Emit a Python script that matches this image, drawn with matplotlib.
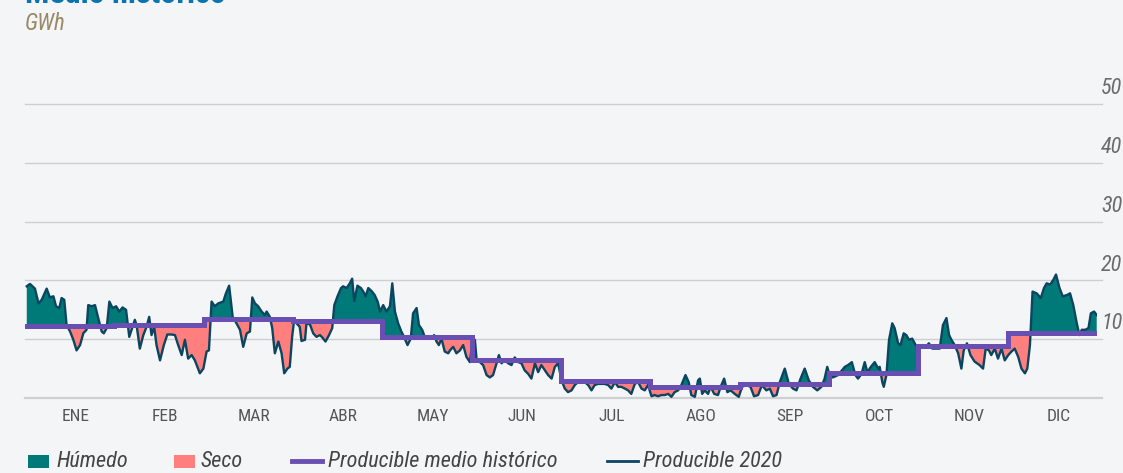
import numpy as np
import matplotlib
matplotlib.use("Agg")
import matplotlib.pyplot as plt
from matplotlib.patches import Rectangle
from matplotlib.lines import Line2D
import matplotlib.transforms as mtransforms

# Producible medio histórico (GWh), one value per month
months = ["ENE", "FEB", "MAR", "ABR", "MAY", "JUN", "JUL", "AGO", "SEP", "OCT", "NOV", "DIC"]
hist_month = [12.2, 12.5, 13.4, 13.1, 10.4, 6.5, 2.9, 1.8, 2.3, 4.3, 8.8, 11.1]

# Producible 2020 (GWh): day of year / value
days_2020 = [
    0.6, 1.7, 3.4, 4.6, 5.7, 7.4, 8.5, 9.7, 10.6, 11.7, 12.5, 13.4, 14.2, 15.4, 16.5, 17.6,
    18.8, 19.9, 21.0, 21.6, 22.8, 23.9, 25.0, 26.2, 26.9, 27.9, 28.8, 29.9, 31.1, 32.2, 33.3,
    34.5, 35.6, 36.7, 37.5, 38.1, 39.2, 40.4, 41.5, 42.4, 43.2, 44.1, 44.9, 46.1, 47.4, 48.6,
    50.1, 51.2, 52.3, 53.5, 54.6, 55.7, 56.9, 58.0, 59.7, 60.9, 62.0, 62.8, 63.7, 64.8, 66.0,
    67.7, 68.6, 69.7, 70.9,
    72.2, 73.4, 74.5, 75.7, 76.8, 77.6, 78.5, 79.6, 80.8, 81.9, 82.5, 83.6, 84.4, 85.3, 86.5,
    87.6, 88.5, 89.6, 90.4, 91.2, 91.9, 92.7, 93.8, 94.4, 95.6, 96.1, 97.3, 98.4, 99.5, 100.7,
    101.5, 102.6, 103.8, 104.9, 105.6, 106.7, 107.9, 108.6, 109.8, 110.9, 111.7, 112.4, 113.5,
    114.7, 115.5, 116.3, 117.2, 118.3, 119.4, 120.4, 121.2, 122.3, 123.4, 124.6, 125.4, 126.3,
    127.4, 128.5, 129.4, 130.6, 131.7, 132.5, 133.7, 134.5, 135.6, 136.7, 137.7, 138.8, 139.7,
    140.5, 141.3, 142.2, 143.3, 144.5,
    145.1, 146.2, 147.3, 148.5, 149.6, 150.7, 151.9, 152.8, 153.6, 154.2, 155.3, 156.4, 157.6,
    158.7, 159.8, 161.0, 161.8, 162.7, 163.8, 165.0, 166.1, 167.2, 168.4, 169.5, 170.6, 171.8,
    172.9, 174.1, 175.2, 176.3, 177.5, 178.6, 179.8, 180.9, 182.0, 183.2, 184.3, 185.4, 186.6,
    187.7, 188.8, 190.0, 191.1, 192.3, 193.4, 194.5, 195.7, 196.8, 197.9, 199.1, 200.2, 201.4,
    202.5, 203.6, 204.8, 205.9, 207.0, 208.2, 209.3, 210.5, 211.6, 212.7, 213.9, 215.0, 216.1,
    217.3,
    218.4, 219.6, 220.7, 221.8, 223.0, 224.1, 225.5, 226.6, 227.5, 228.7, 229.8, 230.4, 231.2,
    232.1, 233.2, 234.1, 235.3, 236.6, 237.5, 238.7, 239.8, 240.9, 242.3, 243.7, 244.8, 246.3,
    247.7, 248.9, 250.3, 251.6, 253.1, 254.3, 255.4, 256.6, 257.7, 259.4, 260.8, 262.2, 263.4,
    264.8, 266.2, 267.6, 269.0, 270.5, 271.9, 273.0, 273.9, 274.7, 275.8, 277.6, 279.9, 281.0,
    282.3, 283.5, 284.4, 285.6, 286.7, 287.6, 288.8, 290.1, 291.3,
    291.8, 292.7, 293.2, 294.1, 295.0, 296.1, 296.9, 298.1, 298.9, 300.0, 300.9, 301.8, 302.9,
    304.1, 305.2, 306.4, 307.5, 308.6, 309.8, 310.9, 312.3, 313.4, 314.6, 315.5, 316.3, 317.4,
    318.6, 319.7, 320.5, 321.6, 322.8, 324.2, 325.9, 327.1, 328.0, 329.1, 329.9, 331.1, 332.2,
    333.4, 334.5, 335.7, 336.8, 337.9, 339.1, 340.2, 341.4, 342.2, 343.1, 344.0, 345.4, 346.8,
    347.9, 348.8, 350.0, 351.1, 352.0, 353.2, 354.3, 355.7, 356.8, 357.9, 359.1, 360.0, 360.8,
    362.0, 363.1, 363.9, 365.0, 365.9,
]
prod_2020 = [
    19.0, 19.4, 18.6, 16.1, 16.7, 18.6, 17.1, 17.3, 15.6, 15.3, 17.0, 16.7, 12.4, 11.3, 9.9, 8.1,
    9.0, 11.0, 11.6, 15.8, 15.6, 15.8, 13.6, 11.3, 11.0, 11.9, 16.4, 15.3, 15.6, 14.7, 15.4,
    15.0, 10.4, 12.1, 13.3, 12.4, 8.4, 10.7, 12.1, 13.8, 10.7, 12.1, 9.0, 6.4, 9.0, 10.8,
    10.8, 10.7, 9.0, 7.3, 9.9, 6.7, 7.3, 6.4, 4.2, 5.0, 7.9, 8.1, 16.4, 15.6, 16.1,
    16.4, 17.8, 19.1, 13.8,
    12.7, 11.6, 8.7, 11.0, 11.3, 17.1, 16.1, 15.6, 14.7, 14.1, 14.7, 13.8, 11.9, 7.6, 9.6,
    7.6, 4.2, 5.0, 5.3, 10.4, 13.3, 12.7, 12.1, 9.7, 9.9, 12.7, 12.5, 11.0, 10.4, 10.7,
    10.3, 9.6, 10.7, 11.9, 15.8, 17.3, 18.7, 19.0, 18.7, 19.5, 20.3, 16.5, 19.1,
    18.7, 18.1, 17.3, 18.7, 18.2, 17.5, 16.4, 14.7, 15.8, 14.7, 15.6, 19.5, 14.7,
    12.7, 11.3, 10.4, 9.0, 10.1, 14.4, 15.3, 12.4, 11.6, 10.1, 10.4, 10.1, 10.7,
    9.6, 9.0, 10.1, 7.9, 7.6,
    8.1, 8.7, 7.6, 8.1, 9.0, 7.0, 6.1, 9.8, 9.9, 6.4, 6.1, 5.6, 3.9,
    3.5, 3.9, 5.9, 7.3, 5.9, 6.4, 5.9, 5.6, 6.9, 6.1, 5.9, 4.7, 4.1,
    3.3, 5.9, 4.4, 5.6, 4.7, 3.9, 3.3, 5.3, 5.9, 3.0, 1.6, 1.0, 1.3,
    2.2, 2.7, 3.0, 2.7, 2.2, 1.3, 2.2, 2.4, 2.4, 2.4, 2.2, 1.6, 2.7,
    1.9, 1.9, 1.6, 1.3, 0.7, 2.4, 2.7, 1.6, 1.3, 2.2, 0.3, 0.5, 0.3,
    0.5,
    0.5, 0.7, 0.2, 1.0, 1.3, 2.2, 3.9, 2.7, 0.5, 0.2, 3.0, 3.3, 0.7,
    1.3, 0.7, 1.9, 0.7, 0.5, 1.9, 3.3, 1.0, 1.3, 0.7, 0.2, 1.9, 2.2,
    1.9, 0.3, 0.5, 2.2, 1.3, 1.6, 0.3, 0.5, 2.7, 5.0, 2.4, 1.6, 1.3,
    3.3, 5.0, 3.0, 1.9, 1.3, 1.9, 3.3, 5.3, 3.9, 3.5, 3.9, 5.3, 5.6,
    6.1, 3.9, 3.3, 4.1, 6.1, 4.4, 5.3, 6.1, 5.0,
    5.3, 2.7, 1.9, 3.9, 9.9, 12.7, 11.9, 9.3, 9.0, 11.0, 10.7, 9.9, 10.1,
    9.0, 8.7, 9.0, 8.7, 9.3, 8.4, 8.4, 8.4, 12.4, 13.6, 10.7, 9.9, 9.0,
    7.6, 5.0, 8.1, 9.3, 7.3, 6.2, 5.6, 5.0, 8.4, 8.1, 7.3, 8.4, 6.7,
    8.4, 6.4, 7.3, 7.9, 8.4, 7.0, 5.0, 4.2, 5.0, 9.0, 18.1, 17.8, 17.0,
    18.7, 19.5, 19.3, 20.1, 21.0, 18.7, 17.3, 17.5, 17.8, 15.8, 12.7, 10.7, 11.6,
    11.6, 11.9, 14.4, 14.7, 14.1,
]
y_ticks = [10, 20, 30, 40, 50]
legend_labels = ["Húmedo", "Seco", "Producible medio histórico", "Producible 2020"]

BG = "#f4f5f7"
C_WET = "#007a78"
C_DRY = "#ff7f7f"
C_HIST = "#6a4fb2"
C_2020 = "#0b4560"
FONT = ["Roboto Condensed", "Liberation Sans Narrow", "Roboto", "DejaVu Sans"]

month_len = 366 / 12
days = np.array(days_2020)
prod = np.array(prod_2020)
hist = np.array(hist_month)


def hist_at(d):
    idx = np.clip((np.asarray(d) // month_len).astype(int), 0, 11)
    return hist[idx]


fig = plt.figure(figsize=(11.23, 4.73), dpi=100, facecolor=BG)
W, H = 1123, 473
x0, x1 = 25, 1097
ymin, ymax = -0.5, 52
px_per = 5.88
bot_px = 398 + (0 - ymin) * px_per
top_px = 398 - ymax * px_per
ax = fig.add_axes([x0 / W, (H - bot_px) / H, (x1 - x0) / W, (bot_px - top_px) / H])
ax.set_facecolor(BG)
ax.set_xlim(0, 366)
ax.set_ylim(ymin, ymax)
for s in ax.spines.values():
    s.set_visible(False)
ax.tick_params(left=False, right=False, bottom=False, labelleft=False)

# gridlines
for v in [0] + y_ticks:
    ax.axhline(v, xmin=0, xmax=1.005, color="#cfcfd2", lw=1.6 if v == 0 else 1.0,
               zorder=0, clip_on=False)
trans = mtransforms.blended_transform_factory(ax.transAxes, ax.transData)
for v in y_ticks:
    ax.text(1.0235, v + 0.8, str(v), transform=trans, ha="right", va="bottom",
            fontsize=16, style="italic", color="#6b6b6b", family=FONT)

# fill between 2020 and historic mean (fine grid only for shading)
xf = np.linspace(days[0], days[-1], 4000)
pf = np.interp(xf, days, prod)
hf = hist_at(xf)
ax.fill_between(xf, pf, hf, where=pf >= hf, interpolate=True, color=C_WET, lw=0, zorder=2)
ax.fill_between(xf, pf, hf, where=pf < hf, interpolate=True, color=C_DRY, lw=0, zorder=2)

# historic step line
edges = np.arange(13) * month_len
ax.plot(edges[:-1].tolist() + [days[-1]], hist.tolist() + [hist[-1]],
        drawstyle="steps-post", color=C_HIST, lw=3.6, zorder=4, solid_joinstyle="miter")
ax.plot(days, prod, color=C_2020, lw=1.7, zorder=3)

# month labels
ax.set_xticks(np.arange(12) * month_len + month_len / 2 + 2)
ax.set_xticklabels(months, fontsize=12.5, color="#555555", family=FONT)
ax.tick_params(axis="x", pad=2)

# header
fig.text(x0 / W, (H - 3) / H, "Medio histórico", fontsize=23, weight="bold",
         color="#0a74b0", ha="left", va="baseline", family=FONT)
fig.text(x0 / W, (H - 24) / H, "GWh", fontsize=16.5, style="italic", color="#9a8866",
         ha="left", va="center", family=FONT)

# legend drawn by hand at the reference's positions
ly = (H - 461) / H
patch_x = [28, 174]
for px, c in zip(patch_x, [C_WET, C_DRY]):
    fig.add_artist(Rectangle((px / W, (H - 468) / H), 21 / W, 13 / H, transform=fig.transFigure,
                             facecolor=c, edgecolor="none"))
line_x = [(292, 322), (607, 638)]
for (a, b), c, lw in zip(line_x, [C_HIST, C_2020], [3.5, 2.0]):
    fig.add_artist(Line2D([a / W, b / W], [ly, ly], transform=fig.transFigure, color=c, lw=lw))
text_x = [56, 201, 328, 643]
for tx, lab in zip(text_x, legend_labels):
    fig.text(tx / W, ly, lab, fontsize=16, style="italic", color="#444444",
             ha="left", va="center", family=FONT)

fig.savefig("out.png", dpi=100, facecolor=BG)
